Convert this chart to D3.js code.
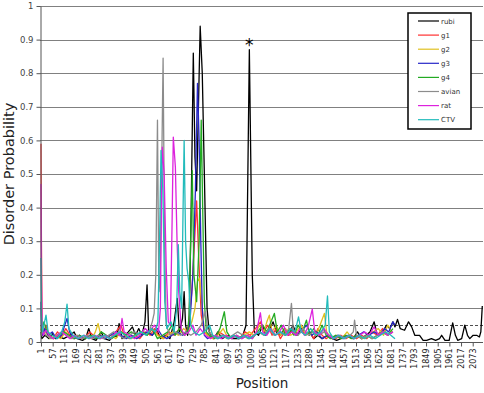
<!DOCTYPE html>
<html>
<head>
<meta charset="utf-8">
<script src="https://cdn.jsdelivr.net/npm/d3@7"></script>
<style>
  body { margin: 0; background: #fff; }
  svg { font-family: "DejaVu Sans", Verdana, sans-serif; }
</style>
</head>
<body>
<div id="chart"></div>
<script>
// series names and colours (legend order)
const seriesNames = ['rubi', 'g1', 'g2', 'g3', 'g4', 'avian', 'rat', 'CTV'];
const seriesColors = ['#000000', '#ff3030', '#e0c020', '#2626c8', '#22aa22', '#8c8c8c', '#dd22dd', '#22bbbb'];

// [position, disorder probability]
const rubi = [[1,0.03],[5,0.01],[20,0.02],[40,0.01],[55,0.025],[70,0.01],[90,0.015],[110,0.01],[140,0.02],[160,0.03],[175,0.01],[200,0.005],[215,0.01],[230,0.04],[245,0.01],[265,0.005],[290,0.03],[305,0.01],[330,0.005],[350,0.02],[365,0.015],[376,0.055],[390,0.01],[420,0.03],[440,0.045],[455,0.02],[470,0.04],[485,0.02],[500,0.06],[510,0.17],[518,0.03],[535,0.02],[555,0.04],[575,0.01],[600,0.02],[620,0.01],[640,0.06],[655,0.13],[665,0.03],[680,0.07],[688,0.15],[695,0.05],[705,0.02],[712,0.05],[722,0.4],[732,0.86],[740,0.55],[748,0.45],[765,0.94],[775,0.8],[785,0.5],[798,0.1],[808,0.03],[830,0.01],[850,0.03],[870,0.01],[900,0.02],[920,0.01],[950,0.01],[970,0.02],[985,0.05],[1001,0.87],[1015,0.2],[1025,0.03],[1045,0.02],[1065,0.05],[1080,0.02],[1100,0.04],[1115,0.06],[1130,0.03],[1150,0.02],[1170,0.04],[1190,0.02],[1210,0.05],[1230,0.02],[1250,0.04],[1270,0.02],[1290,0.03],[1310,0.01],[1330,0.02],[1350,0.01],[1380,0.02],[1400,0.01],[1420,0.005],[1440,0.01],[1460,0.02],[1480,0.015],[1500,0.01],[1520,0.03],[1540,0.01],[1560,0.02],[1580,0.03],[1600,0.06],[1615,0.02],[1640,0.03],[1660,0.05],[1675,0.04],[1690,0.06],[1700,0.045],[1712,0.067],[1725,0.04],[1746,0.035],[1765,0.06],[1780,0.045],[1795,0.02],[1818,0.02],[1835,0.005],[1852,0.005],[1875,0.01],[1895,0.005],[1914,0.01],[1924,0.02],[1940,0.005],[1960,0.005],[1977,0.057],[1990,0.02],[2001,0.005],[2020,0.01],[2035,0.05],[2048,0.02],[2059,0.01],[2075,0.02],[2092,0.02],[2105,0.015],[2112,0.03],[2119,0.107]];
const g1 = [[1,0.59],[3,0.3],[6,0.06],[12,0.03],[25,0.05],[40,0.02],[60,0.01],[80,0.03],[100,0.015],[120,0.04],[140,0.02],[160,0.01],[185,0.02],[210,0.01],[235,0.03],[260,0.015],[285,0.01],[310,0.02],[335,0.01],[360,0.03],[385,0.05],[400,0.02],[425,0.01],[450,0.02],[475,0.01],[500,0.03],[525,0.02],[545,0.04],[565,0.02],[590,0.01],[615,0.03],[640,0.02],[665,0.04],[690,0.02],[710,0.05],[725,0.15],[738,0.3],[748,0.42],[758,0.25],[770,0.08],[785,0.03],[805,0.02],[830,0.01],[855,0.03],[880,0.02],[905,0.01],[930,0.02],[955,0.01],[980,0.03],[1005,0.02],[1030,0.04],[1055,0.06],[1070,0.03],[1090,0.05],[1110,0.02],[1130,0.04],[1150,0.01],[1170,0.03],[1190,0.02],[1210,0.04],[1230,0.02],[1250,0.05],[1270,0.02],[1290,0.03],[1310,0.01],[1330,0.04],[1350,0.02],[1370,0.01],[1390,0.02],[1415,0.01],[1440,0.02],[1465,0.01],[1490,0.02],[1515,0.01],[1540,0.02],[1565,0.01],[1590,0.03],[1615,0.02],[1640,0.04],[1665,0.02],[1690,0.03]];
const g2 = [[1,0.05],[5,0.02],[20,0.03],[45,0.01],[70,0.02],[95,0.01],[120,0.03],[145,0.01],[170,0.02],[195,0.01],[220,0.02],[245,0.01],[262,0.03],[275,0.055],[288,0.02],[310,0.01],[335,0.02],[360,0.01],[385,0.03],[410,0.02],[435,0.01],[460,0.02],[485,0.03],[510,0.02],[535,0.04],[560,0.02],[585,0.01],[610,0.02],[635,0.03],[660,0.02],[685,0.04],[705,0.03],[725,0.06],[740,0.1],[752,0.18],[762,0.19],[772,0.12],[785,0.03],[800,0.02],[825,0.01],[850,0.02],[875,0.04],[900,0.01],[925,0.02],[950,0.01],[975,0.02],[1000,0.03],[1025,0.02],[1050,0.05],[1070,0.03],[1085,0.06],[1097,0.08],[1110,0.03],[1130,0.05],[1150,0.02],[1175,0.04],[1200,0.02],[1225,0.03],[1250,0.05],[1270,0.02],[1295,0.04],[1320,0.02],[1340,0.05],[1361,0.085],[1372,0.03],[1395,0.01],[1420,0.02],[1445,0.01],[1470,0.03],[1495,0.01],[1520,0.02],[1545,0.01],[1570,0.02],[1595,0.03],[1620,0.04],[1645,0.02],[1665,0.05],[1685,0.03]];
const g3 = [[1,0.12],[3,0.05],[8,0.02],[20,0.04],[35,0.02],[55,0.03],[75,0.01],[100,0.02],[115,0.05],[126,0.07],[138,0.03],[160,0.01],[185,0.02],[210,0.01],[235,0.02],[260,0.01],[285,0.02],[310,0.01],[335,0.02],[360,0.03],[385,0.02],[410,0.01],[435,0.02],[460,0.01],[485,0.02],[510,0.03],[535,0.02],[560,0.04],[580,0.02],[605,0.01],[630,0.02],[655,0.03],[680,0.02],[700,0.03],[715,0.05],[730,0.2],[742,0.45],[752,0.77],[760,0.6],[768,0.3],[775,0.1],[785,0.02],[800,0.01],[825,0.02],[850,0.01],[875,0.02],[900,0.01],[925,0.02],[950,0.01],[975,0.02],[1000,0.01],[1025,0.02],[1050,0.03],[1075,0.02],[1100,0.04],[1125,0.02],[1150,0.03],[1175,0.02],[1200,0.04],[1225,0.02],[1250,0.03],[1275,0.05],[1300,0.02],[1325,0.03],[1350,0.01],[1375,0.02],[1400,0.01],[1425,0.02],[1450,0.01],[1475,0.02],[1500,0.01],[1525,0.02],[1550,0.03],[1575,0.02],[1600,0.03],[1625,0.02],[1650,0.04],[1670,0.03],[1690,0.06],[1700,0.05]];
const g4 = [[1,0.04],[5,0.03],[15,0.06],[25,0.04],[40,0.02],[60,0.01],[85,0.02],[110,0.03],[135,0.02],[160,0.01],[185,0.02],[210,0.01],[240,0.02],[265,0.01],[290,0.03],[315,0.02],[340,0.01],[360,0.02],[385,0.03],[410,0.02],[435,0.03],[460,0.02],[485,0.03],[510,0.02],[535,0.04],[560,0.01],[585,0.02],[610,0.03],[630,0.05],[645,0.02],[665,0.04],[690,0.02],[705,0.03],[712,0.08],[721,0.35],[727,0.51],[735,0.2],[748,0.12],[760,0.3],[770,0.66],[777,0.4],[785,0.12],[795,0.03],[810,0.02],[835,0.01],[860,0.04],[881,0.09],[893,0.03],[915,0.01],[940,0.02],[965,0.01],[990,0.02],[1015,0.01],[1040,0.03],[1065,0.05],[1085,0.03],[1105,0.06],[1121,0.085],[1135,0.03],[1155,0.05],[1175,0.02],[1195,0.04],[1215,0.02],[1235,0.05],[1255,0.03],[1275,0.065],[1290,0.02],[1310,0.04],[1330,0.02],[1350,0.05],[1370,0.02],[1390,0.01],[1415,0.02],[1440,0.01],[1465,0.02],[1490,0.01],[1515,0.02],[1540,0.01],[1565,0.02],[1590,0.01],[1615,0.02],[1640,0.03],[1665,0.02],[1690,0.04]];
const avian = [[1,0.02],[8,0.03],[25,0.02],[50,0.01],[75,0.02],[100,0.03],[125,0.02],[150,0.01],[175,0.02],[200,0.01],[225,0.02],[250,0.01],[275,0.02],[300,0.01],[325,0.02],[350,0.03],[375,0.02],[400,0.01],[425,0.02],[450,0.03],[475,0.02],[500,0.04],[520,0.03],[535,0.06],[544,0.085],[552,0.2],[560,0.66],[566,0.2],[572,0.15],[580,0.5],[587,0.845],[594,0.3],[602,0.05],[620,0.02],[645,0.03],[670,0.02],[695,0.03],[720,0.02],[745,0.03],[770,0.05],[790,0.09],[800,0.04],[820,0.02],[845,0.01],[870,0.02],[895,0.01],[920,0.02],[945,0.03],[970,0.02],[995,0.01],[1020,0.02],[1045,0.03],[1070,0.02],[1095,0.04],[1120,0.02],[1145,0.03],[1170,0.02],[1190,0.04],[1203,0.115],[1212,0.03],[1235,0.02],[1260,0.04],[1285,0.02],[1310,0.03],[1335,0.02],[1360,0.03],[1385,0.02],[1410,0.01],[1435,0.02],[1460,0.01],[1485,0.02],[1500,0.03],[1506,0.065],[1515,0.02],[1540,0.01],[1565,0.02],[1590,0.01],[1615,0.02],[1640,0.03],[1665,0.02],[1690,0.03]];
const rat = [[1,0.47],[3,0.2],[6,0.05],[12,0.02],[25,0.035],[40,0.02],[60,0.01],[80,0.02],[100,0.03],[120,0.02],[140,0.01],[160,0.02],[185,0.01],[210,0.02],[235,0.01],[260,0.02],[285,0.01],[310,0.02],[335,0.01],[362,0.03],[378,0.02],[390,0.07],[400,0.03],[425,0.02],[450,0.01],[475,0.02],[500,0.04],[520,0.03],[545,0.05],[565,0.03],[574,0.1],[579,0.4],[583,0.58],[592,0.5],[602,0.22],[612,0.06],[622,0.05],[630,0.35],[636,0.61],[646,0.52],[654,0.3],[662,0.15],[674,0.04],[690,0.02],[710,0.03],[730,0.05],[745,0.02],[765,0.04],[790,0.02],[815,0.01],[840,0.02],[865,0.01],[890,0.02],[915,0.01],[940,0.02],[965,0.01],[990,0.02],[1015,0.01],[1035,0.03],[1054,0.087],[1065,0.03],[1085,0.02],[1105,0.04],[1125,0.02],[1145,0.03],[1165,0.05],[1185,0.02],[1205,0.03],[1225,0.02],[1245,0.04],[1265,0.02],[1285,0.05],[1303,0.098],[1315,0.03],[1335,0.02],[1360,0.04],[1380,0.02],[1405,0.01],[1430,0.02],[1455,0.01],[1480,0.02],[1505,0.01],[1530,0.02],[1555,0.03],[1575,0.02],[1600,0.045],[1620,0.02],[1645,0.03],[1665,0.02],[1690,0.03]];
const CTV = [[1,0.25],[3,0.08],[8,0.03],[15,0.05],[25,0.08],[35,0.03],[55,0.02],[80,0.01],[100,0.03],[115,0.06],[126,0.113],[135,0.04],[155,0.02],[180,0.01],[205,0.02],[230,0.01],[255,0.02],[280,0.01],[305,0.02],[330,0.01],[355,0.02],[380,0.03],[405,0.02],[430,0.01],[455,0.02],[480,0.03],[505,0.02],[530,0.04],[550,0.03],[562,0.06],[570,0.3],[577,0.57],[586,0.45],[595,0.12],[605,0.04],[625,0.06],[640,0.03],[652,0.1],[660,0.29],[667,0.15],[676,0.1],[683,0.4],[688,0.6],[695,0.3],[702,0.22],[710,0.18],[720,0.05],[735,0.03],[760,0.02],[785,0.03],[810,0.05],[825,0.02],[850,0.01],[875,0.02],[900,0.01],[925,0.02],[950,0.01],[975,0.02],[1000,0.01],[1025,0.02],[1050,0.03],[1075,0.02],[1100,0.04],[1125,0.02],[1150,0.03],[1175,0.02],[1200,0.04],[1220,0.03],[1237,0.075],[1250,0.03],[1270,0.02],[1295,0.04],[1320,0.02],[1345,0.03],[1365,0.05],[1376,0.137],[1385,0.03],[1405,0.01],[1430,0.02],[1455,0.01],[1480,0.02],[1505,0.01],[1530,0.02],[1555,0.01],[1580,0.02],[1605,0.01],[1630,0.02],[1655,0.03],[1680,0.02],[1700,0.01]];

const seriesData = [rubi, g1, g2, g3, g4, avian, rat, CTV];

// axis ticks
const xTicks = d3.range(1, 2120, 56);   // 1, 57, 113 ... 2073
const yTicks = [0, 0.1, 0.2, 0.3, 0.4, 0.5, 0.6, 0.7, 0.8, 0.9, 1];
const cutoff = 0.05;
const starPosition = 1001;
const starValue = 0.87;

// dimensions
const W = 484, H = 393;
const plot = { left: 40, right: 483, top: 6, bottom: 342 };

const svg = d3.select('#chart')
    .append('svg')
    .attr('width', W)
    .attr('height', H);

const xScale = d3.scaleLinear()
    .domain([1, 2120])
    .range([plot.left + 1, plot.right - 0.5]);

const yScale = d3.scaleLinear()
    .domain([0, 1])
    .range([plot.bottom, plot.top]);

// gridlines
svg.append('g')
    .selectAll('line')
    .data(yTicks.filter(d => d > 0))
    .enter()
    .append('line')
    .attr('x1', plot.left)
    .attr('x2', plot.right)
    .attr('y1', d => Math.round(yScale(d)) + 0.5)
    .attr('y2', d => Math.round(yScale(d)) + 0.5)
    .attr('stroke', '#808080')
    .attr('stroke-width', 1);

// 0.05 cutoff
svg.append('line')
    .attr('x1', plot.left)
    .attr('x2', plot.right)
    .attr('y1', Math.round(yScale(cutoff)) + 0.5)
    .attr('y2', Math.round(yScale(cutoff)) + 0.5)
    .attr('stroke', '#222')
    .attr('stroke-width', 0.8)
    .attr('stroke-dasharray', '3,2');

// series lines
const line = d3.line()
    .x(d => xScale(d[0]))
    .y(d => yScale(d[1]));

svg.append('g')
    .selectAll('path')
    .data(seriesData)
    .enter()
    .append('path')
    .attr('d', line)
    .attr('fill', 'none')
    .attr('stroke', (d, i) => seriesColors[i])
    .attr('stroke-width', 1.3)
    .attr('stroke-linejoin', 'round');

// x axis
const xAxis = svg.append('g')
    .attr('transform', `translate(0, ${plot.bottom + 0.5})`)
    .call(d3.axisBottom(xScale).tickValues(xTicks).tickFormat(d3.format('d')).tickSize(4).tickSizeOuter(0));
xAxis.select('.domain').attr('d', `M${plot.left},0H${plot.right}`).attr('stroke', '#555');
xAxis.selectAll('.tick line').attr('stroke', '#555');
xAxis.selectAll('text')
    .attr('transform', 'rotate(-90)')
    .attr('x', -6)
    .attr('y', 0)
    .attr('dy', '0.32em')
    .style('text-anchor', 'end')
    .style('font-family', '"DejaVu Sans", Verdana, sans-serif')
    .style('font-size', '8px')
    .attr('fill', '#222');

// y axis
const yAxis = svg.append('g')
    .attr('transform', `translate(${plot.left + 0.5}, 0)`)
    .call(d3.axisLeft(yScale).tickValues(yTicks).tickFormat(d3.format('')).tickSize(4).tickSizeOuter(0));
yAxis.select('.domain').attr('stroke', '#555');
yAxis.selectAll('.tick line').attr('stroke', '#555');
yAxis.selectAll('text')
    .style('font-family', '"DejaVu Sans", Verdana, sans-serif')
    .style('font-size', '8.5px')
    .attr('fill', '#444');

// axis titles
svg.append('text')
    .attr('transform', `translate(14, ${(plot.top + plot.bottom) / 2}) rotate(-90)`)
    .attr('text-anchor', 'middle')
    .style('font-size', '14.5px')
    .attr('fill', '#222')
    .text('Disorder Probability');

svg.append('text')
    .attr('x', 262)
    .attr('y', 388)
    .attr('text-anchor', 'middle')
    .style('font-size', '13.5px')
    .attr('fill', '#222')
    .text('Position');

// asterisk over the rubi peak
svg.append('text')
    .attr('x', xScale(starPosition))
    .attr('y', yScale(starValue) + 1)
    .attr('text-anchor', 'middle')
    .style('font-size', '17px')
    .attr('fill', '#000')
    .text('*');

// legend
const legend = svg.append('g')
    .attr('transform', 'translate(408, 13)');

legend.append('rect')
    .attr('width', 63)
    .attr('height', 116)
    .attr('fill', '#fff')
    .attr('stroke', '#000')
    .attr('stroke-width', 1.5);

seriesNames.forEach((name, i) => {
    const row = legend.append('g')
        .attr('transform', `translate(0, ${8 + i * 14.1})`);
    row.append('line')
        .attr('x1', 10)
        .attr('x2', 31)
        .attr('stroke', seriesColors[i])
        .attr('stroke-width', 1.2);
    row.append('text')
        .attr('x', 33)
        .attr('y', 2.5)
        .style('font-size', '7px')
        .attr('fill', '#333')
        .text(name);
});
</script>
</body>
</html>
